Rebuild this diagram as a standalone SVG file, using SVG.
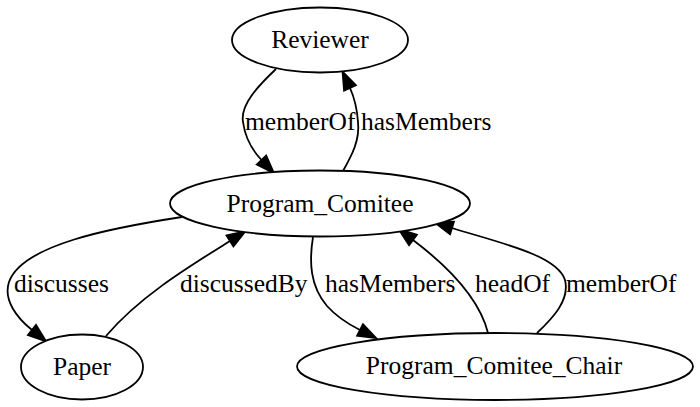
<svg xmlns="http://www.w3.org/2000/svg" width="700" height="407" viewBox="0 0 700 407">
<defs>
<style>
.node ellipse{fill:#fff;stroke:#000;stroke-width:1.8}
.node text{font-family:"Liberation Serif","Times New Roman",serif;font-size:25.5px;fill:#000;text-anchor:middle}
.edges path{fill:none;stroke:#000;stroke-width:1.8;marker-end:url(#arr)}
.lbl{font-family:"Liberation Serif","Times New Roman",serif;font-size:25.5px;fill:#000}
</style>
<marker id="arr" markerUnits="userSpaceOnUse" markerWidth="20" markerHeight="16" refX="0" refY="6.5" orient="auto" viewBox="0 0 20 13" overflow="visible">
<path d="M0,0 L18,6.5 L0,13 z" fill="#000" stroke="#000" stroke-width="1.8"/>
</marker>
</defs>
<rect width="700" height="407" fill="#fff"/>
<g id="edges" class="edges">
<path d="M276,69 C258,86 240,105 243,122 C245,137 252,150 261.5,160"/>
<path d="M343,171 C352,155 360,140 358,122 C357,108 355,99 350,88"/>
<path d="M182,217 C110,228 22,245 9,282 C3,300 17,318 32,330"/>
<path d="M106,336 C140,296 190,266 230,241"/>
<path d="M313,237 C309,262 310,286 327,306 C336,316 346,323 360,330"/>
<path d="M488,333 C481,305 458,274 413,240"/>
<path d="M537,333 C553,318 570,300 565,280 C557,255 500,243 452,228"/>
<text class="lbl" x="245" y="130">memberOf</text>
<text class="lbl" x="361" y="130">hasMembers</text>
<text class="lbl" x="14" y="292">discusses</text>
<text class="lbl" x="180" y="292">discussedBy</text>
<text class="lbl" x="325" y="292">hasMembers</text>
<text class="lbl" x="475" y="292">headOf</text>
<text class="lbl" x="566" y="292">memberOf</text>
</g>
<g id="Reviewer" class="node">
<ellipse cx="320" cy="40" rx="88" ry="32.5"/>
<text x="320" y="48">Reviewer</text>
</g>
<g id="Program_Comitee" class="node">
<ellipse cx="320" cy="203.5" rx="150" ry="33"/>
<text x="320" y="212">Program_Comitee</text>
</g>
<g id="Paper" class="node">
<ellipse cx="82" cy="367" rx="61" ry="32.5"/>
<text x="82" y="375">Paper</text>
</g>
<g id="Program_Comitee_Chair" class="node">
<ellipse cx="495" cy="366.5" rx="198" ry="33.5"/>
<text x="494" y="374">Program_Comitee_Chair</text>
</g>
</svg>
